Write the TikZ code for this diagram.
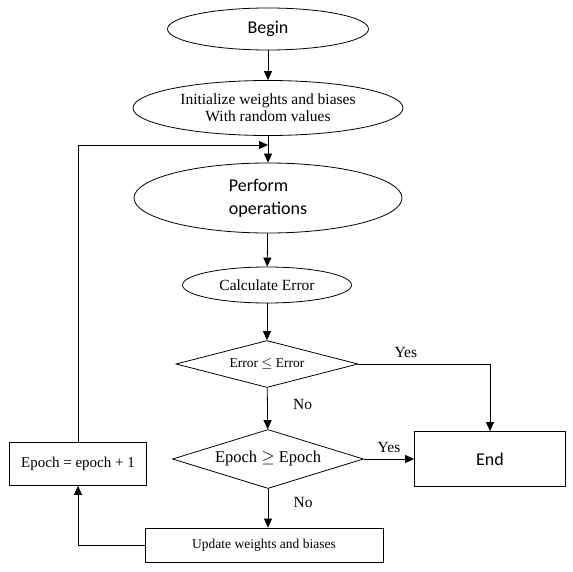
\documentclass[tikz,border=0pt]{standalone}
\usepackage{fontspec}
\setmainfont{Liberation Serif}
\newfontfamily\calib{Carlito}
\usepackage{tikz}
\usetikzlibrary{shapes.geometric,arrows.meta}

\begin{document}
\begin{tikzpicture}[x=1pt, y=-1pt,
    line width=0.8pt,
    >={Triangle[length=9pt,width=8pt]},
    oval/.style={ellipse, draw, inner sep=0pt},
    choice/.style={diamond, draw, inner sep=0pt},
    box/.style={rectangle, draw, inner sep=0pt},
    sans/.style={font=\calib\fontsize{18}{23}\selectfont},
    every node/.style={font=\fontsize{15.5}{17}\selectfont}]
    \useasboundingbox (0,0) rectangle (572,572);

    % Start and initialisation
    \node[oval, sans, minimum width=201pt, minimum height=42pt] (begin) at (268,29) {Begin};
    \node[oval, minimum width=270pt, minimum height=55pt, align=center] (init) at (268,108) {Initialize weights and biases\\ With random values};
    \node[oval, sans, minimum width=268pt, minimum height=70pt, align=left] (perform) at (268,198) {Perform\\ operations};
    \node[oval, minimum width=169pt, minimum height=36pt] (calc) at (267,285) {Calculate Error};
    \coordinate (join) at (268,145);

    % Decisions
    \node[choice, shape aspect=3.87, minimum width=182pt, minimum height=47pt, font=\fontsize{13.5}{15}\selectfont] (errchk) at (267,364) {Error \ensuremath{\leq} Error};
    \node[choice, shape aspect=3.24, minimum width=191pt, minimum height=59pt, font=\fontsize{16.5}{18}\selectfont] (epochchk) at (268,459) {Epoch \ensuremath{\geq} Epoch};

    % End and loop boxes
    \node[box, sans, minimum width=151pt, minimum height=55pt] (end) at (490,459) {End};
    \node[box, minimum width=238pt, minimum height=34pt, font=\fontsize{13.5}{15}\selectfont] (update) at (264,545) {Update weights and biases};
    \node[box, minimum width=137pt, minimum height=43pt, font=\fontsize{15}{17}\selectfont] (epoch) at (78,464) {Epoch = epoch + 1};

    % Connectors
    \draw[->] (begin) -- (init);
    \draw[->] (init) -- (perform);
    \draw[->] (epoch.north) |- (join);
    \draw[->] (perform) -- (calc);
    \draw[->] (calc) -- (errchk);
    \draw[->] (errchk.east) -| node[pos=0.18, above=3pt] {Yes} (end.north);
    \draw[->] (errchk) -- node[pos=0.4, right=22pt] {No} (epochchk);
    \draw[->] (epochchk) -- node[pos=0.5, above=3pt] {Yes} (end);
    \draw[->] (epochchk.south) -- node[pos=0.35, right=22pt] {No} (epochchk.south |- update.north);
    \draw[->] (update.west) -| (epoch.south);
\end{tikzpicture}
\end{document}
